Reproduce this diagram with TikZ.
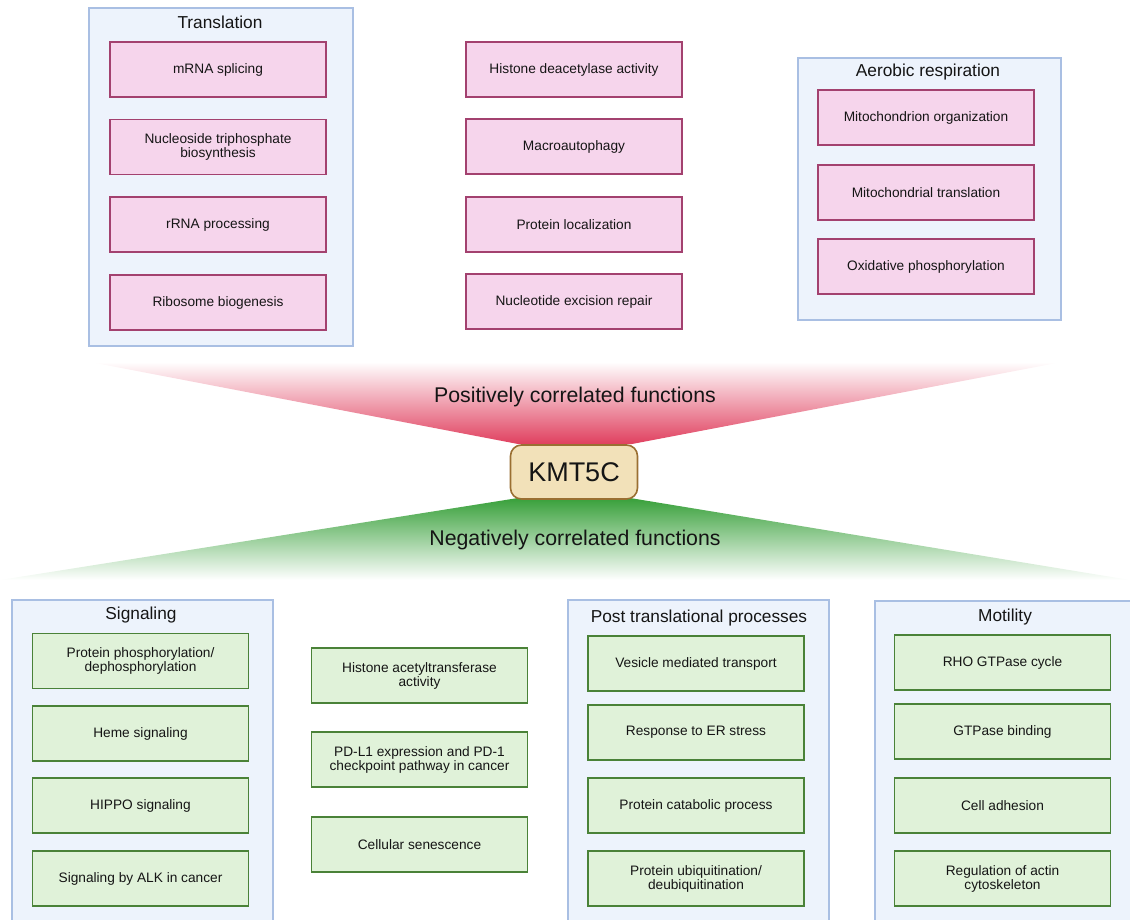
\documentclass[tikz,border=0pt]{standalone}
\usepackage{fontspec}
\setmainfont{Liberation Sans}
\begin{document}
\begin{tikzpicture}[x=1pt,y=-1pt,
  container/.style={draw=frameblue, fill=paleblue, line width=1.5pt, inner sep=0pt, anchor=north west},
  head/.style={font=\fontsize{17.3}{19}\selectfont, text=ink, inner sep=0pt},
  pbox/.style={draw=pinkline, fill=pinkfill, line width=1.8pt, minimum width=216pt, minimum height=55pt, align=center, font=\fontsize{13.7}{14}\selectfont, text=ink, inner sep=0pt},
  gbox/.style={draw=greenline, fill=greenfill, line width=1.8pt, minimum width=216pt, minimum height=55pt, align=center, font=\fontsize{13.7}{14}\selectfont, text=ink, inner sep=0pt},
  bigtext/.style={font=\fontsize{21.3}{23}\selectfont, text=ink, inner sep=0pt}
]
\definecolor{frameblue}{HTML}{A9BFE3}
\definecolor{paleblue}{HTML}{EDF3FC}
\definecolor{pinkline}{HTML}{A3416F}
\definecolor{pinkfill}{HTML}{F6D5EC}
\definecolor{greenline}{HTML}{4A8238}
\definecolor{greenfill}{HTML}{E0F2D9}
\definecolor{ink}{HTML}{151515}
\definecolor{redgrad}{HTML}{E0405F}
\definecolor{greengrad}{HTML}{38A03A}
\definecolor{kfill}{HTML}{F2E1B9}
\definecolor{kline}{HTML}{9A6F32}

\useasboundingbox (0,0) rectangle (1130,919);

% gradients
\shade[top color=white, bottom color=redgrad] (90,362) -- (1062,362) -- (632,444) -- (518,444) -- cycle;
\shade[top color=greengrad, bottom color=white] (518,498) -- (630,498) -- (1130,580) -- (0,580) -- cycle;
\node[bigtext] (pos) at (575,397) {Positively correlated functions};
\node[bigtext] (neg) at (575,540) {Negatively correlated functions};
\node[draw=kline, fill=kfill, line width=1.6pt, rounded corners=11pt, minimum width=127pt, minimum height=54pt, inner sep=0pt, font=\fontsize{27}{29}\selectfont, text=ink] (kmt) at (574,472) {KMT5C};

% top containers
\node[container, minimum width=264pt, minimum height=338pt] (transl) at (88,7) {};
\node[head] (translh) at (220,22.5) {Translation};
\node[container, minimum width=263pt, minimum height=262pt] (aerob) at (797,57) {};
\node[head] (aerobh) at (928,72.5) {Aerobic respiration};

\node[pbox] (t1) at (218,69.5) {mRNA splicing};
\node[pbox] (t2) at (218,147) {Nucleoside triphosphate\\biosynthesis};
\node[pbox] (t3) at (218,224.5) {rRNA processing};
\node[pbox] (t4) at (218,302.5) {Ribosome biogenesis};

\node[pbox] (m1) at (574,69.5) {Histone deacetylase activity};
\node[pbox] (m2) at (574,146.5) {Macroautophagy};
\node[pbox] (m3) at (574,224.5) {Protein localization};
\node[pbox] (m4) at (574,301.5) {Nucleotide excision repair};

\node[pbox] (a1) at (926,117.5) {Mitochondrion organization};
\node[pbox] (a2) at (926,192.5) {Mitochondrial translation};
\node[pbox] (a3) at (926,266.5) {Oxidative phosphorylation};

% bottom containers
\node[container, minimum width=261pt, minimum height=330pt] (sig) at (11,599) {};
\node[head] (sigh) at (141,615.5) {Signaling};
\node[container, minimum width=261pt, minimum height=330pt] (post) at (567,599) {};
\node[head] (posth) at (699,618.5) {Post translational processes};
\node[container, minimum width=262pt, minimum height=330pt] (mot) at (874,600) {};
\node[head] (moth) at (1005,617.5) {Motility};

\node[gbox] (s1) at (140.5,661) {Protein phosphorylation/\\dephosphorylation};
\node[gbox] (s2) at (140.5,733.5) {Heme signaling};
\node[gbox] (s3) at (140.5,805.5) {HIPPO signaling};
\node[gbox] (s4) at (140.5,878.5) {Signaling by ALK in cancer};

\node[gbox] (c1) at (419.5,675.5) {Histone acetyltransferase\\activity};
\node[gbox] (c2) at (419.5,759.5) {PD-L1 expression and PD-1\\checkpoint pathway in cancer};
\node[gbox] (c3) at (419.5,844.5) {Cellular senescence};

\node[gbox] (p1) at (696,663.5) {Vesicle mediated transport};
\node[gbox] (p2) at (696,732.5) {Response to ER stress};
\node[gbox] (p3) at (696,805.5) {Protein catabolic process};
\node[gbox] (p4) at (696,878.5) {Protein ubiquitination/\\deubiquitination};

\node[gbox] (o1) at (1002.5,662.5) {RHO GTPase cycle};
\node[gbox] (o2) at (1002.5,731.5) {GTPase binding};
\node[gbox] (o3) at (1002.5,805.5) {Cell adhesion};
\node[gbox] (o4) at (1002.5,878.5) {Regulation of actin\\cytoskeleton};
\end{tikzpicture}
\end{document}
